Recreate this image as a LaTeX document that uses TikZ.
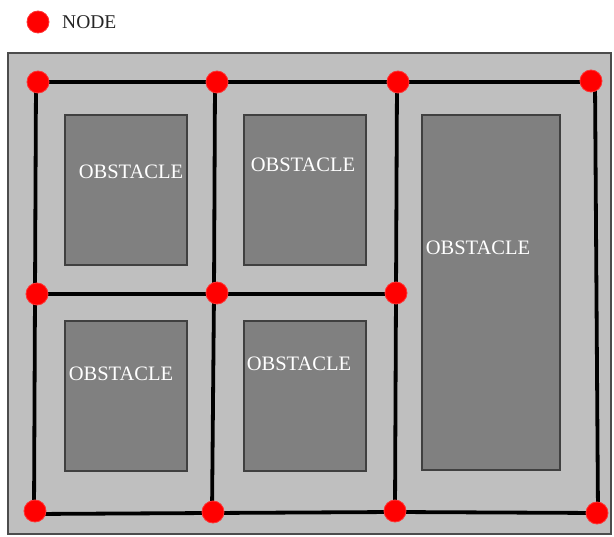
\documentclass[tikz,border=0pt]{standalone}
\usepackage{fontspec}
\setmainfont{Liberation Serif}
\begin{document}
\begin{tikzpicture}[x=1pt,y=-1pt,
  pt/.style={circle,fill=red,draw=red!80!white,line width=0.8pt,minimum size=22pt,inner sep=0pt},
  obst/.style={fill=black!50,draw=black!75,line width=1.2pt},
  lbl/.style={text=white,font=\fontsize{20.5}{22}\selectfont,inner sep=0pt},
  link/.style={line width=3.8pt,black}]
\useasboundingbox (0,0) rectangle (614,537);
\fill[white] (0,0) rectangle (614,537);
% field
\draw[fill=black!25,draw=black!70,line width=1.5pt] (8,53) rectangle (611,534);
% obstacles
\draw[obst] (65,115) rectangle (187,265);
\draw[obst] (244,115) rectangle (366,265);
\draw[obst] (422,115) rectangle (560,470);
\draw[obst] (65,321) rectangle (187,471);
\draw[obst] (244,321) rectangle (366,471);
\node[lbl] (t1) at (131,172) {OBSTACLE};
\node[lbl] (t2) at (303,165) {OBSTACLE};
\node[lbl] (t3) at (478,248) {OBSTACLE};
\node[lbl] (t4) at (121,374) {OBSTACLE};
\node[lbl] (t5) at (299,364) {OBSTACLE};
% graph nodes (positions)
\coordinate (n1) at (36,82);
\coordinate (n2) at (215,82);
\coordinate (n3) at (397,82);
\coordinate (n4) at (595,82);
\coordinate (n5) at (35,294);
\coordinate (n6) at (214,294);
\coordinate (n7) at (396,294);
\coordinate (n8) at (34,514);
\coordinate (n9) at (212,513);
\coordinate (n10) at (395,512);
\coordinate (n11) at (598,513);
% links
\draw[link] (n1) -- (n2) -- (n3) -- (n4);
\draw[link] (n5) -- (n6) -- (n7);
\draw[link] (n8) -- (n9) -- (n10) -- (n11);
\draw[link] (n1) -- (n5) -- (n8);
\draw[link] (n2) -- (n6) -- (n9);
\draw[link] (n3) -- (n7) -- (n10);
\draw[link] (n4) -- (n11);
% red node markers
\node[pt] (m1) at (38,82) {};
\node[pt] (m2) at (217,82) {};
\node[pt] (m3) at (398,82) {};
\node[pt] (m4) at (591,81) {};
\node[pt] (m5) at (37,294) {};
\node[pt] (m6) at (217,293) {};
\node[pt] (m7) at (396,293) {};
\node[pt] (m8) at (35,511) {};
\node[pt] (m9) at (213,512) {};
\node[pt] (m10) at (395,511) {};
\node[pt] (m11) at (597,513) {};
% legend
\node[pt] (leg) at (38,22) {};
\node[anchor=west,inner sep=0pt,font=\fontsize{19.5}{21}\selectfont,text=black!85] (legt) at (62,22) {NODE};
\end{tikzpicture}
\end{document}
